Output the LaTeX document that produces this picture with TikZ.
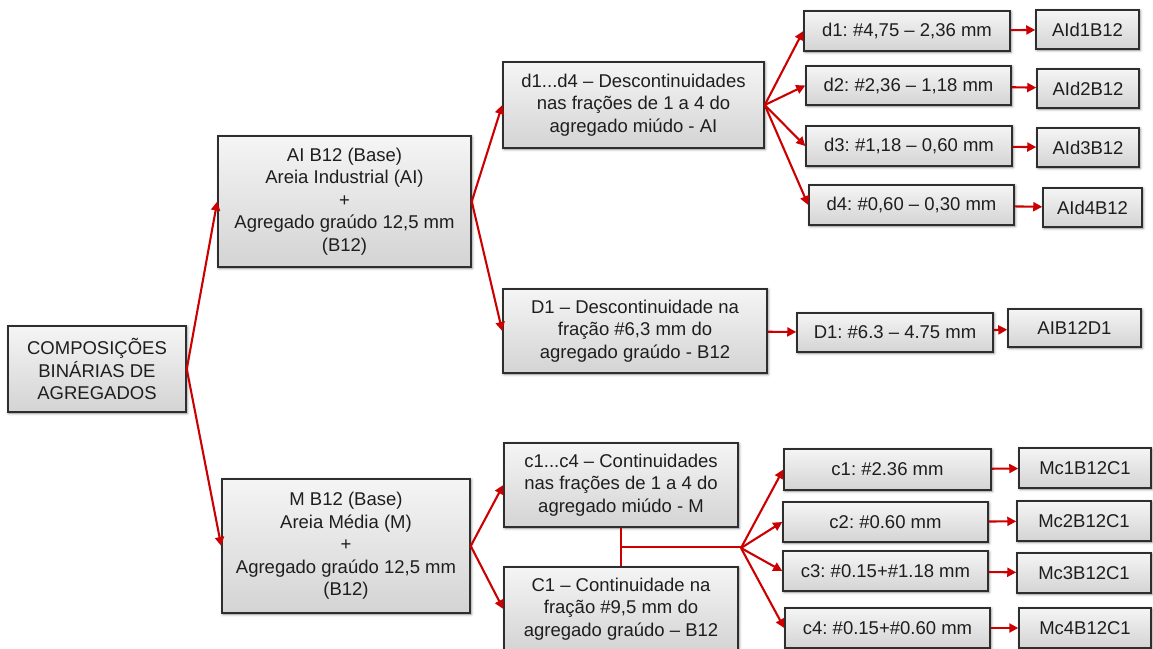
\documentclass[tikz,border=0pt]{standalone}
\usepackage{fontspec}
\setmainfont{Liberation Sans}
\usetikzlibrary{arrows.meta,shadows.blur,calc}
\definecolor{arrred}{HTML}{CC0000}
\definecolor{boxline}{HTML}{2E2E2E}
\definecolor{txt}{HTML}{1E1E1E}
\frenchspacing
\begin{document}
\begin{tikzpicture}[x=1pt,y=-1pt,
  box/.style={draw=boxline, line width=1.5pt, top color=black!4, bottom color=black!17,
    align=center, inner sep=0pt, text=txt, font=\fontsize{18.5}{22.6}\selectfont,
    blur shadow={shadow xshift=1pt,shadow yshift=-1pt,shadow blur radius=3pt,shadow opacity=45}},
  bx/.style 2 args={box, minimum width=#1pt, minimum height=#2pt},
  arr/.style={draw=arrred, line width=2.1pt, -{Triangle[length=9pt,width=9pt]}},
  lnk/.style={draw=arrred, line width=2.1pt}]
\useasboundingbox (0,0) rectangle (1153,648);
% level 0
\node[bx={178}{86}] (root) at (97,369) {COMPOSIÇÕES\\BINÁRIAS DE\\AGREGADOS};
% level 1
\node[bx={253}{131}] (ai) at (344.5,201.5) {AI B12 (Base)\\Areia Industrial (AI)\\+\\Agregado graúdo 12,5 mm\\(B12)};
\node[bx={248}{134}] (mb) at (346,546) {M B12 (Base)\\Areia Média (M)\\+\\Agregado graúdo 12,5 mm\\(B12)};
% level 2
\node[bx={261}{86}] (dd) at (633.5,105) {d1...d4 – Descontinuidades\\nas frações de 1 a 4 do\\agregado miúdo - AI};
\node[bx={264}{84}] (D1) at (635,331) {D1 – Descontinuidade na\\fração \#6,3 mm do\\agregado graúdo - B12};
\node[bx={234}{84}] (cc) at (621,485) {c1...c4 – Continuidades\\nas frações de 1 a 4 do\\agregado miúdo - M};
\node[bx={234}{84}] (C1) at (621,609) {C1 – Continuidade na\\fração \#9,5 mm do\\agregado graúdo – B12};
% level 3
\node[bx={206}{40}] (d1) at (907,31) {d1: \#4,75 – 2,36 mm};
\node[bx={205}{39}] (d2) at (908.5,85.5) {d2: \#2,36 – 1,18 mm};
\node[bx={206}{40}] (d3) at (909,146) {d3: \#1,18 – 0,60 mm};
\node[bx={205}{40}] (d4) at (911.5,205) {d4: \#0,60 – 0,30 mm};
\node[bx={196}{39}] (Ds) at (895,332.5) {D1: \#6.3 – 4.75 mm};
\node[bx={207}{41}] (c1) at (887.5,469.5) {c1: \#2.36 mm};
\node[bx={205}{40}] (c2) at (885.5,522) {c2: \#0.60 mm};
\node[bx={205}{40}] (c3) at (885.5,571) {c3: \#0.15+\#1.18 mm};
\node[bx={205}{40}] (c4) at (887.5,628) {c4: \#0.15+\#0.60 mm};
% level 4
\node[bx={103}{39}] (a1) at (1087.5,29.5) {AId1B12};
\node[bx={102}{39}] (a2) at (1088,88.5) {AId2B12};
\node[bx={102}{39}] (a3) at (1088,147.5) {AId3B12};
\node[bx={99}{39}] (a4) at (1092.5,207.5) {AId4B12};
\node[bx={133}{38}] (ad) at (1074.5,328) {AIB12D1};
\node[bx={132}{40}] (m1) at (1085,468) {Mc1B12C1};
\node[bx={134}{40}] (m2) at (1084,521) {Mc2B12C1};
\node[bx={134}{40}] (m3) at (1084,573) {Mc3B12C1};
\node[bx={132}{40}] (m4) at (1085,628) {Mc4B12C1};
% connectors
\draw[arr] (root.east) -- (ai.west);
\draw[arr] (root.east) -- (mb.west);
\draw[arr] (ai.east) -- (dd.west);
\draw[arr] (ai.east) -- (D1.west);
\draw[arr] (mb.east) -- (cc.west);
\draw[arr] (mb.east) -- (C1.west);
\foreach \t in {d1,d2,d3,d4} \draw[arr] (dd.east) -- (\t.west);
\draw[arr] (d1) -- (a1);
\draw[arr] (d2) -- (a2);
\draw[arr] (d3) -- (a3);
\draw[arr] (d4) -- (a4);
\draw[arr] (D1) -- (Ds);
\draw[arr] (Ds) -- (ad);
\draw[lnk] (cc.south) -- (C1.north);
\coordinate (J) at ($(cc.south)!0.5!(C1.north)$);
\coordinate (F) at (741,548);
\draw[lnk] (J) -- (J-|F) -- (F);
\foreach \t in {c1,c2,c3,c4} \draw[arr] (F) -- (\t.west);
\draw[arr] (c1) -- (m1);
\draw[arr] (c2) -- (m2);
\draw[arr] (c3) -- (m3);
\draw[arr] (c4) -- (m4);
\end{tikzpicture}
\end{document}
